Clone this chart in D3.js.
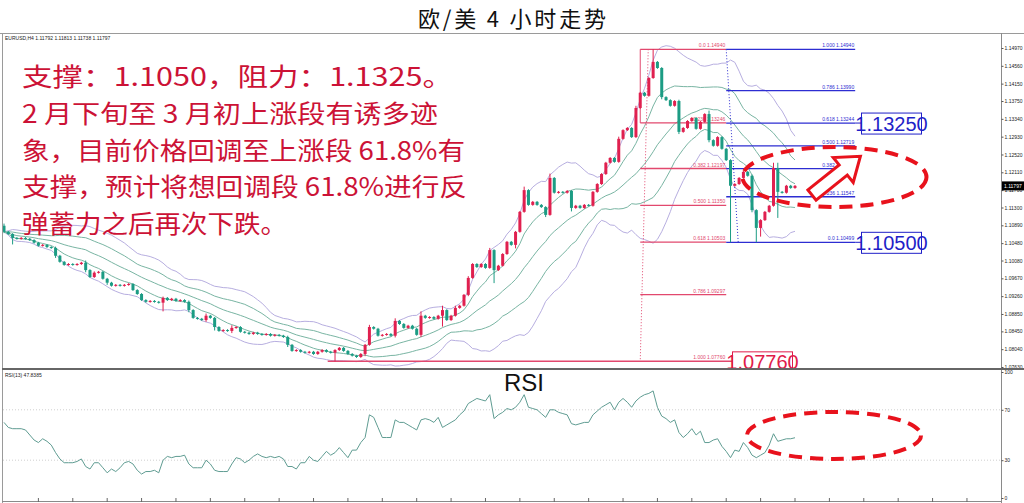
<!DOCTYPE html>
<html><head><meta charset="utf-8">
<script src="https://cdn.jsdelivr.net/npm/d3@7"></script>
<style>body{margin:0;background:#fff;} svg{display:block;}</style>
</head><body>
<svg id="c" width="1024" height="503"></svg>
<script>
// ---------- DATA ----------
const firstOpen = 1.1088;
const closes = [
1.1074,1.1069,1.1060,1.1058,1.1060,1.1058,1.1055,1.1049,1.1042,1.1044,
1.1039,1.1037,1.1019,1.1005,1.0998,1.1000,1.0998,1.1000,1.1003,1.0986,
1.0970,1.0980,1.0982,1.0966,1.0957,1.0950,1.0952,1.0950,1.0952,1.0954,
1.0940,1.0931,1.0917,1.0913,1.0915,1.0913,1.0911,1.0922,1.0917,1.0920,
1.0915,1.0917,1.0913,1.0894,1.0876,1.0874,1.0871,1.0881,1.0876,1.0855,
1.0846,1.0848,1.0846,1.0853,1.0855,1.0844,1.0842,1.0839,1.0842,1.0839,
1.0837,1.0839,1.0835,1.0837,1.0835,1.0832,1.0814,1.0800,1.0802,1.0798,
1.0796,1.0798,1.0793,1.0798,1.0802,1.0798,1.0796,1.0802,1.0807,1.0800,
1.0793,1.0789,1.0786,1.0793,1.0814,1.0855,1.0851,1.0835,1.0837,1.0839,
1.0835,1.0869,1.0862,1.0853,1.0858,1.0851,1.0837,1.0881,1.0876,1.0878,
1.0874,1.0881,1.0894,1.0871,1.0881,1.0899,1.0904,1.0929,1.0968,1.1000,
1.0993,1.1000,1.0991,1.1032,1.0986,1.0996,1.1023,1.1051,1.1044,1.1074,
1.1120,1.1170,1.1136,1.1143,1.1136,1.1131,1.1113,1.1198,1.1164,1.1166,
1.1164,1.1168,1.1129,1.1134,1.1129,1.1136,1.1134,1.1166,1.1184,1.1207,
1.1233,1.1244,1.1235,1.1288,1.1308,1.1313,1.1292,1.1359,1.1394,1.1387,
1.1428,1.1465,1.1451,1.1384,1.1377,1.1364,1.1375,1.1304,1.1313,1.1329,
1.1336,1.1311,1.1327,1.1345,1.1285,1.1272,1.1292,1.1265,1.1239,1.1180,
1.1184,1.1198,1.1212,1.1203,1.1124,1.1083,1.1101,1.1120,1.1134,1.1221,
1.1166,1.1164,1.1180,1.1175,1.11797];
// wick lengths in pips (0.0001) above body / below body
const upWick = [
5,2,2,2,2,2,2,2,2,2, 2,2,3,2,2,2,2,2,2,5,
2,3,2,2,2,2,2,2,2,2, 2,2,2,2,2,2,2,3,2,2,
2,2,2,3,2,2,2,5,2,2, 2,2,2,6,2,2,2,2,2,2,
2,2,2,2,2,2,3,2,2,2, 2,2,2,2,2,2,2,2,2,2,
2,2,2,2,2,5,2,2,2,2, 2,6,2,2,2,2,2,10,2,2,
2,2,10,2,2,5,2,2,4,2, 2,2,2,5,2,2,2,2,2,2,
2,8,2,2,2,2,2,10,2,2, 2,2,2,2,2,2,2,2,2,2,
2,2,2,5,2,2,2,5,2,2, 2,29,2,2,2,2,2,3,2,2,
2,2,2,2,8,2,2,2,2,2, 2,2,2,2,3,2,2,2,2,12,
12,2,2,2,2];
const dnWick = [
3,2,15,2,2,2,2,2,2,2, 2,2,5,2,2,2,2,2,2,5,
2,2,2,2,5,2,2,2,2,2, 2,2,2,2,2,2,2,20,2,2,
2,2,2,5,2,2,2,4,2,8, 2,2,2,5,2,2,2,2,2,2,
2,2,2,2,2,2,5,2,2,2, 2,2,2,2,2,2,2,20,2,2,
2,2,2,2,5,2,2,2,2,2, 2,4,2,2,2,2,2,5,2,2,
2,2,25,2,2,2,2,2,3,2, 2,2,2,2,30,2,2,2,2,8,
2,2,2,2,2,2,5,2,2,2, 2,2,8,2,2,2,2,2,2,2,
2,2,2,2,2,2,2,2,2,2, 2,2,2,5,2,2,2,5,2,2,
2,2,2,2,5,2,2,2,2,130, 2,2,2,2,5,33,20,2,2,2,
60,2,2,2,2];
const rsiValues = [
60,56,55,55,55,54,50,46,44,47, 45,42,36,31,28,28,28,29,31,25,
23,28,28,24,20,23,21,24,28,29, 27,22,19,21,21,22,20,30,33,32,
33,33,34,27,24,24,24,30,27,22, 21,21,21,27,32,31,28,30,33,35,
33,32,33,32,33,31,25,25,23,28, 28,33,30,29,33,37,34,36,40,36,
32,38,38,44,48,66,64,56,48,48, 48,62,60,60,58,56,54,62,63,62,
60,64,56,58,60,62,66,69,75,77, 79,78,77,82,63,66,68,71,70,72,
76,82,72,71,70,67,64,70,70,68, 67,66,59,58,59,60,60,66,69,72,
74,76,70,76,79,76,72,77,80,82, 83,85,72,65,63,60,62,52,48,51,
55,50,53,44,44,46,47,41,37,32, 38,37,44,40,34,32,34,36,42,51,
45,46,47,47,47.8385];
const priceTicks = [1.14970,1.14560,1.14150,1.13750,1.13340,1.12930,1.12520,1.12110,1.11700,
  1.11300,1.10890,1.10480,1.10080,1.09670,1.09260,1.08850,1.08450,1.08040,1.07630];
const rsiTicks = [100,70,30,0];
const rsiLevels = [70,30];
const fibRatios = [0,0.236,0.382,0.5,0.618,0.786,1];
const fibRed = {hi:1.1494, lo:1.0776, i0:148, i1:168};
const fibBlue = {hi:1.1494, lo:1.10499, i0:168, i1:198};
const lowLineStart = 75.3;
const boxLabels = [
  {text:"1.13250", price:1.13243, color:"#1f1fc8"},
  {text:"1.10500", price:1.10499, color:"#1f1fc8"},
  {text:"1.07760", price:1.0776, color:"#e01a4a"}];
const title = "欧/美 4 小时走势";
const header = "EURUSD,H4  1.11792 1.11813 1.11738 1.11797";
const noteLines = [
  "支撑：1.1050，阻力：1.1325。",
  "2 月下旬至 3 月初上涨段有诱多迹",
  "象，目前价格回调至上涨段 61.8%有",
  "支撑，预计将想回调段 61.8%进行反",
  "弹蓄力之后再次下跌。"];
const bbPeriod = 20;

// ---------- SCALES ----------
const svg = d3.select("#c");
const N = closes.length;
const x = d3.scaleLinear().domain([0, N-1]).range([4, 795]);
const y = d3.scaleLinear().domain([1.0763, 1.1497]).range([367, 48]);
const yr = d3.scaleLinear().domain([0, 100]).range([498, 372]);
const pip = 0.0001;
const tinyFont = "'Liberation Sans', Arial";

const candles = closes.map((c,i)=>{
  const o = i===0 ? firstOpen : closes[i-1];
  return {i, o, c, h: Math.max(o,c)+upWick[i]*pip, l: Math.min(o,c)-dnWick[i]*pip};
});

// Bollinger bands from closes
const bands = closes.map((c,i)=>{
  const w = closes.slice(Math.max(0,i-bbPeriod+1), i+1);
  const m = d3.mean(w);
  const sd = Math.sqrt(d3.mean(w, v=>(v-m)*(v-m)));
  return {i, m, sd};
});

// ---------- TITLE ----------
svg.append("text").attr("x",512).attr("y",27).attr("text-anchor","middle")
  .attr("font-family","'Noto Sans CJK SC'").attr("font-size",22).attr("fill","#111")
  .attr("textLength",188).attr("lengthAdjust","spacing").text(title);

// frame
svg.append("line").attr("x1",0).attr("x2",1024).attr("y1",33.5).attr("y2",33.5).attr("stroke","#9a9a9a");
svg.append("line").attr("x1",2.5).attr("x2",2.5).attr("y1",33).attr("y2",503).attr("stroke","#9a9a9a");
svg.append("line").attr("x1",1001.5).attr("x2",1001.5).attr("y1",33).attr("y2",503).attr("stroke","#8a8a8a");
svg.append("line").attr("x1",2).attr("x2",1002).attr("y1",501.5).attr("y2",501.5).attr("stroke","#8a8a8a");

svg.append("defs").call(d=>{
  d.append("clipPath").attr("id","mainClip").append("rect").attr("x",3).attr("y",34).attr("width",998).attr("height",334);
  d.append("clipPath").attr("id","rsiClip").append("rect").attr("x",3).attr("y",370).attr("width",998).attr("height",131);
});
const main = svg.append("g").attr("clip-path","url(#mainClip)");

// header
svg.append("text").attr("x",5).attr("y",40).attr("font-family",tinyFont).attr("font-size",5).attr("fill","#222").text(header);

// Bollinger lines
const bandDefs = [
  {k: 2, color:"#b7aee0"}, {k:-2, color:"#b7aee0"},
  {k: 1, color:"#79b5a3"}, {k:-1, color:"#79b5a3"}, {k:0, color:"#79b5a3"}];
bandDefs.forEach(b=>{
  main.append("path").datum(bands)
    .attr("fill","none").attr("stroke",b.color).attr("stroke-width",1)
    .attr("d", d3.line().x(d=>x(d.i)).y(d=>y(d.m + b.k*d.sd)));
});

// Fibonacci (red retracement)
const redCol = "#e2486e", blueCol = "#2d2dd2";
fibRatios.forEach(r=>{
  const p = fibRed.hi - r*(fibRed.hi-fibRed.lo);
  const xs = r===1 ? x(lowLineStart) : x(fibRed.i0);
  const xe = r===1 ? 732 : x(fibRed.i1);
  main.append("line").attr("x1",xs).attr("x2",xe).attr("y1",y(p)).attr("y2",y(p))
    .attr("stroke",redCol).attr("stroke-width",r===1?1.5:1.3);
  main.append("text").attr("x",x(fibRed.i1)-1).attr("y",y(p)-2).attr("text-anchor","end")
    .attr("font-family",tinyFont).attr("font-size",5).attr("fill",redCol)
    .text((r===0?"0.0":r.toFixed(3))+"  "+p.toFixed(5));
});
main.append("line").attr("x1",x(fibRed.i0)).attr("x2",x(fibRed.i0))
  .attr("y1",y(fibRed.hi)).attr("y2",y(fibRed.hi-0.236*(fibRed.hi-fibRed.lo))).attr("stroke",redCol).attr("stroke-width",1);
main.append("line").attr("x1",x(fibRed.i0)+8).attr("x2",x(fibRed.i0))
  .attr("y1",y(fibRed.hi)).attr("y2",y(fibRed.lo)).attr("stroke",redCol).attr("stroke-dasharray","1,2");

// Fibonacci (blue)
fibRatios.forEach(r=>{
  const p = fibBlue.lo + r*(fibBlue.hi-fibBlue.lo);
  main.append("line").attr("x1",x(fibBlue.i0)).attr("x2",x(fibBlue.i1)).attr("y1",y(p)).attr("y2",y(p))
    .attr("stroke",blueCol).attr("stroke-width",1.3);
  main.append("text").attr("x",x(fibBlue.i1)-1).attr("y",y(p)-2).attr("text-anchor","end")
    .attr("font-family",tinyFont).attr("font-size",5).attr("fill",blueCol)
    .text((r===0?"0.0":r.toFixed(3))+"  "+p.toFixed(5));
});
main.append("line").attr("x1",x(fibBlue.i0)).attr("x2",x(fibBlue.i0)+12)
  .attr("y1",y(fibBlue.hi)).attr("y2",y(fibBlue.lo)).attr("stroke",blueCol).attr("stroke-dasharray","1,2");

// Candles
const bullCol = "#e0204f", bearCol = "#1c9c84";
const cg = main.append("g");
cg.selectAll("line.w").data(candles).join("line").attr("class","w")
  .attr("x1",d=>x(d.i)).attr("x2",d=>x(d.i)).attr("y1",d=>y(d.h)).attr("y2",d=>y(d.l))
  .attr("stroke",d=>d.c>=d.o?bullCol:bearCol).attr("stroke-width",1);
cg.selectAll("rect.b").data(candles).join("rect").attr("class","b")
  .attr("x",d=>x(d.i)-1.5).attr("width",3)
  .attr("y",d=>y(Math.max(d.o,d.c))).attr("height",d=>Math.max(1,Math.abs(y(d.o)-y(d.c))))
  .attr("fill",d=>d.c>=d.o?bullCol:bearCol);

// Label boxes
boxLabels.forEach((b,k)=>{
  const cy = y(b.price);
  const bx = k===2 ? 732 : 861;
  const top = k===2 ? cy-10 : cy-10.5;
  if(k<2) main.append("line").attr("x1",x(fibBlue.i1)).attr("x2",bx).attr("y1",cy).attr("y2",cy).attr("stroke",b.color);
  main.append("rect").attr("x",bx+0.5).attr("y",top+0.5).attr("width",60).attr("height",21)
    .attr("fill","#fff").attr("stroke",b.color).attr("stroke-width",1);
  main.append("text").attr("x",bx+30.5).attr("y",top+18).attr("text-anchor","middle")
    .attr("font-family","'Liberation Sans', Arial").attr("font-size",20).attr("fill",b.color).text(b.text);
});

// Annotation text
const noteWidths = [431, 416, 443, 445, 265];
noteLines.forEach((t,k)=>{
  svg.append("text").attr("x",22).attr("y",86+k*36.8)
    .attr("font-family","'Noto Sans CJK SC'").attr("font-size",25).attr("fill","#cc1236")
    .attr("textLength",noteWidths[k]).attr("lengthAdjust","spacingAndGlyphs").text(t);
});

// Red dashed ellipse + arrow
svg.append("ellipse").attr("cx",834.5).attr("cy",177).attr("rx",92).attr("ry",30)
  .attr("fill","none").attr("stroke","#e8121c").attr("stroke-width",4).attr("stroke-dasharray","13,8");
svg.append("polygon").attr("points","0,-6.5 40,-6.5 40,-16 62,0 40,16 40,6.5 0,6.5")
  .attr("transform","translate(812,195) rotate(-38.7)")
  .attr("fill","#fff").attr("stroke","#e8121c").attr("stroke-width",3).attr("stroke-linejoin","miter");

// Right price axis
const ax = svg.append("g").attr("transform","translate(1001.5,0)")
  .call(d3.axisRight(y).tickValues(priceTicks).tickSize(2).tickFormat(d3.format(".5f")));
ax.select(".domain").remove();
ax.selectAll("text").attr("font-size",5).attr("font-family",tinyFont).attr("fill","#222").attr("x",3);
ax.selectAll("line").attr("stroke","#555");
// current price tag
const cur = closes[N-1];
svg.append("rect").attr("x",1002).attr("y",y(cur)-4.5).attr("width",22).attr("height",9).attr("fill","#000");
svg.append("text").attr("x",1004).attr("y",y(cur)+2).attr("font-size",5).attr("font-family",tinyFont)
  .attr("fill","#fff").text(cur.toFixed(5));

// panel separator
svg.append("line").attr("x1",2).attr("x2",1024).attr("y1",369).attr("y2",369).attr("stroke","#666").attr("stroke-width",2);

// ---------- RSI PANEL ----------
const rp = svg.append("g").attr("clip-path","url(#rsiClip)");
rsiLevels.forEach(v=>{
  rp.append("line").attr("x1",3).attr("x2",1001).attr("y1",yr(v)).attr("y2",yr(v))
    .attr("stroke","#cfcfcf").attr("stroke-dasharray","1,2");
});
rp.append("path").datum(rsiValues).attr("fill","none").attr("stroke","#5f9c92").attr("stroke-width",1)
  .attr("d", d3.line().x((d,i)=>x(i)).y(d=>yr(d)));
svg.append("text").attr("x",5).attr("y",377).attr("font-family",tinyFont).attr("font-size",5).attr("fill","#222")
  .text("RSI(13) " + rsiValues[N-1].toFixed(4));
svg.append("text").attr("x",524).attr("y",391).attr("text-anchor","middle")
  .attr("font-family","'Liberation Sans', Arial").attr("font-size",24).attr("fill","#111").text("RSI");
const rax = svg.append("g").attr("transform","translate(1001.5,0)")
  .call(d3.axisRight(yr).tickValues(rsiTicks).tickSize(2));
rax.select(".domain").remove();
rax.selectAll("text").attr("font-size",5).attr("font-family",tinyFont).attr("fill","#222").attr("x",3);
rax.selectAll("line").attr("stroke","#555");
svg.append("ellipse").attr("cx",834).attr("cy",435.5).attr("rx",87).attr("ry",23.5)
  .attr("fill","none").attr("stroke","#e8121c").attr("stroke-width",4).attr("stroke-dasharray","13,8");

// bottom time ticks
const bt = d3.range(8, N+40, 8);
svg.selectAll("line.bt").data(bt).join("line").attr("class","bt")
  .attr("x1",d=>x(d)).attr("x2",d=>x(d)).attr("y1",498).attr("y2",502).attr("stroke","#666");
</script>
</body></html>
